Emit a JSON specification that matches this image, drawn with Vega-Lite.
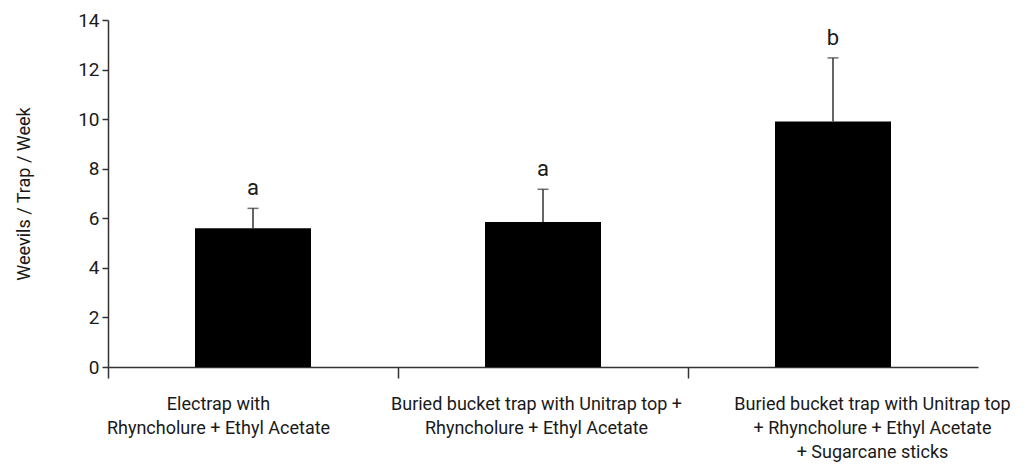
{
  "$schema": "https://vega.github.io/schema/vega-lite/v6.json",
  "autosize": "none",
  "width": 870,
  "height": 347,
  "padding": {"left": 108, "top": 20, "right": 52, "bottom": 99},
  "background": "white",
  "config": {
    "view": {"stroke": null},
    "font": "Roboto"
  },
  "data": {
    "values": [
      {"trap": "Electrap with|Rhyncholure + Ethyl Acetate", "mean": 5.6, "upper": 6.4, "letter": "a"},
      {"trap": "Buried bucket trap with Unitrap top +|Rhyncholure + Ethyl Acetate", "mean": 5.85, "upper": 7.17, "letter": "a"},
      {"trap": "Buried bucket trap with Unitrap top|+  Rhyncholure + Ethyl Acetate|+ Sugarcane sticks", "mean": 9.9, "upper": 12.47, "letter": "b"}
    ]
  },
  "encoding": {
    "x": {
      "field": "trap",
      "type": "nominal",
      "sort": null,
      "scale": {"paddingInner": 0.6, "paddingOuter": 0.3},
      "axis": {
        "title": null,
        "labelAngle": 0,
        "labelExpr": "split(datum.value, '|')",
        "labelFont": "Roboto",
        "labelFontSize": 18,
        "labelLineHeight": 24,
        "labelLimit": 0,
        "labelColor": "#1a1a1a",
        "labelPadding": 17,
        "tickOffset": -145,
        "labelOffset": {"expr": "indexof(datum.value, 'Electrap') >= 0 ? 110 : (indexof(datum.value, 'Sugarcane') >= 0 ? 184 : 138)"},
        "tickSize": 11,
        "tickColor": "#333333",
        "tickWidth": 1.5,
        "domainColor": "#333333",
        "domainWidth": 1.5
      }
    }
  },
  "layer": [
    {
      "mark": {"type": "bar", "color": "#000000"},
      "encoding": {
        "y": {
          "field": "mean",
          "type": "quantitative",
          "scale": {"domain": [0, 14], "nice": false},
          "axis": {
            "title": "Weevils / Trap / Week",
            "titleFont": "Roboto",
            "titleFontSize": 18,
            "titleFontWeight": "normal",
            "titleColor": "#1a1a1a",
            "titlePadding": 44,
            "values": [0, 2, 4, 6, 8, 10, 12, 14],
            "labelFont": "Roboto",
            "labelFontSize": 19,
            "labelColor": "#1a1a1a",
            "labelPadding": 3,
            "tickSize": 6,
            "tickColor": "#333333",
            "tickWidth": 1.5,
            "domainColor": "#333333",
            "domainWidth": 1.5,
            "grid": false
          }
        }
      }
    },
    {
      "mark": {"type": "rule", "color": "#333333", "strokeWidth": 1.5},
      "encoding": {
        "y": {"field": "mean", "type": "quantitative"},
        "y2": {"field": "upper"}
      }
    },
    {
      "mark": {"type": "tick", "color": "#333333", "thickness": 1.5, "size": 11, "orient": "horizontal"},
      "encoding": {
        "y": {"field": "upper", "type": "quantitative"}
      }
    },
    {
      "mark": {"type": "text", "baseline": "bottom", "dy": -8, "fontSize": 22, "font": "Roboto", "color": "#1a1a1a"},
      "encoding": {
        "y": {"field": "upper", "type": "quantitative"},
        "text": {"field": "letter"}
      }
    }
  ]
}
